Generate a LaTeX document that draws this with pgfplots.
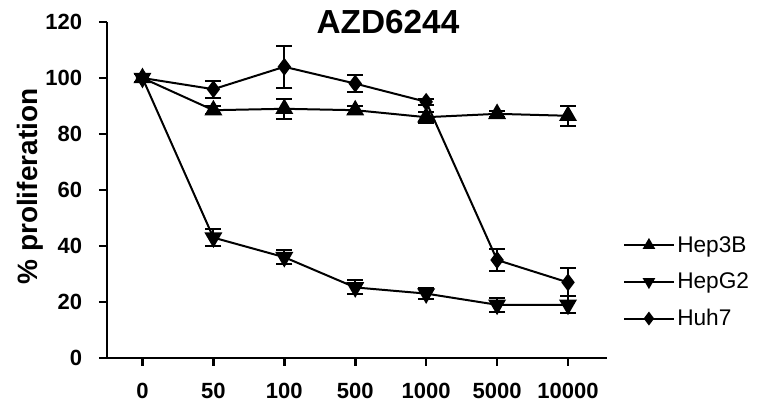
\documentclass[border=0pt]{standalone}
\usepackage{fontspec}
\setmainfont{Liberation Sans}
\usepackage{pgfplots}
\pgfplotsset{compat=1.18}

\begin{document}
\begin{tikzpicture}
\path[use as bounding box] (-80.25pt,-36pt) rectangle (497.25pt,268.5pt);
\begin{axis}[
  at={(0,0)}, anchor=south west,
  scale only axis, width=375pt, height=252pt,
  xmin=-0.5, xmax=6.55, ymin=0, ymax=120,
  axis x line*=bottom, axis y line*=left,
  axis line style={line width=2.2pt, -},
  tick align=outside, major tick length=6pt,
  tick style={line width=2pt, black},
  xtick={0,...,6},
  xticklabels={0,50,100,500,1000,5000,10000},
  ytick={0,20,...,120},
  /pgf/number format/assume math mode=true,
  tick label style={font=\fontsize{16.5}{18}\selectfont\bfseries},
  yticklabel style={anchor=east, inner sep=0pt, xshift=-12.5pt},
  xticklabel style={anchor=north, inner sep=0pt, yshift=-12.5pt},
  ylabel={\% proliferation},
  ylabel style={at={(axis description cs:-0.154,0.51)}, anchor=center, rotate=0,
    font=\fontsize{21}{24}\selectfont\bfseries},
  title={AZD6244},
  title style={at={(axis description cs:0.562,0.976)}, anchor=center,
    font=\fontsize{25}{28}\selectfont\bfseries},
  clip=false,
  cycle list={{black}},
  legend style={at={(1.032,0.226)}, anchor=west, draw=none, fill=none,
    inner sep=0pt, row sep=10pt, font=\fontsize{17}{20}\selectfont},
  legend cell align=left,
  legend image code/.code={
    \draw[#1, mark repeat=2, mark phase=2, mark size=4pt]
      plot coordinates {(0pt,0pt) (18.5pt,0pt) (37pt,0pt)};},
]
% Hep3B
\addplot[black, line width=1.5pt, mark=triangle*, mark size=6.3pt,
  mark options={solid, fill=black},
  error bars/.cd, y dir=both, y explicit,
  error bar style={line width=1.5pt, black},
  error mark options={rotate=90, mark size=6pt, line width=1.5pt, black}]
  coordinates {
  (0,100) +- (0,1.5)
  (1,88.5) +- (0,1.5)
  (2,89) +- (0,3.5)
  (3,88.5) +- (0,1.5)
  (4,86) +- (0,2)
  (5,87.2) +- (0,1)
  (6,86.5) +- (0,3.5)
};
% HepG2
\addplot[black, line width=1.5pt, mark=triangle*, mark size=6.3pt,
  mark options={solid, fill=black, rotate=180},
  error bars/.cd, y dir=both, y explicit,
  error bar style={line width=1.5pt, black},
  error mark options={rotate=90, mark size=6pt, line width=1.5pt, black}]
  coordinates {
  (0,100) +- (0,1.5)
  (1,43) +- (0,3)
  (2,36) +- (0,2.5)
  (3,25.2) +- (0,2.5)
  (4,23) +- (0,2)
  (5,19) +- (0,2.5)
  (6,19) +- (0,3)
};
% Huh7
\addplot[black, line width=1.5pt, mark=diamond*, mark size=5.5pt,
  mark options={solid, fill=black},
  error bars/.cd, y dir=both, y explicit,
  error bar style={line width=1.5pt, black},
  error mark options={rotate=90, mark size=6pt, line width=1.5pt, black}]
  coordinates {
  (0,100) +- (0,1.5)
  (1,96) +- (0,3)
  (2,104) +- (0,7.5)
  (3,98) +- (0,3)
  (4,91.5) +- (0,1)
  (5,35) +- (0,4)
  (6,27) +- (0,5)
};
\legend{Hep3B,HepG2,Huh7}
\end{axis}
\end{tikzpicture}
\end{document}
